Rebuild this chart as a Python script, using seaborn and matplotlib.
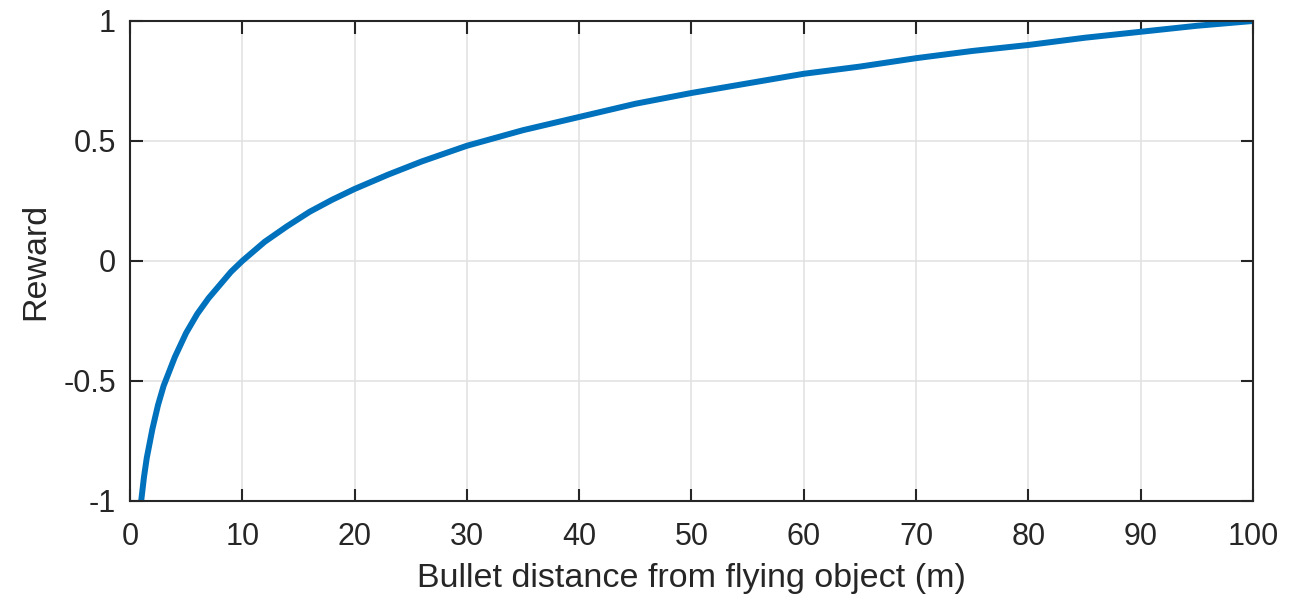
import matplotlib
matplotlib.use("Agg")
import matplotlib.pyplot as plt
import seaborn as sns
import pandas as pd

# Reward as a function of bullet distance
distance_m = [1, 1.25, 1.5, 2, 2.5, 3, 3.5, 4, 5, 6, 7, 8, 9, 10, 12, 14, 16, 18,
              20, 23, 26, 30, 35, 40, 45, 50, 55, 60, 65, 70, 75, 80, 85, 90, 95, 100]
reward = [-1.0, -0.90, -0.82, -0.70, -0.60, -0.52, -0.46, -0.40, -0.30, -0.22,
          -0.155, -0.10, -0.045, 0.0, 0.08, 0.145, 0.205, 0.255, 0.30, 0.36,
          0.415, 0.48, 0.545, 0.60, 0.655, 0.70, 0.74, 0.78, 0.81, 0.845, 0.875,
          0.90, 0.93, 0.955, 0.98, 1.0]

x_ticks = [0, 10, 20, 30, 40, 50, 60, 70, 80, 90, 100]
y_ticks = [-1, -0.5, 0, 0.5, 1]
y_tick_labels = ["-1", "-0.5", "0", "0.5", "1"]

sns.set_theme(style="white")
plt.rcParams["font.family"] = ["Liberation Sans", "DejaVu Sans"]

df = pd.DataFrame({"distance": distance_m, "reward": reward})

fig = plt.figure(figsize=(13.06, 5.96), dpi=100)
ax = fig.add_axes([0.0995, 0.1594, 0.8599, 0.8054])

sns.lineplot(data=df, x="distance", y="reward", ax=ax, color="#0072BD",
             linewidth=4.3, solid_joinstyle="miter")

ax.set_xlim(0, 100)
ax.set_ylim(-1, 1)
ax.set_xticks(x_ticks)
ax.set_xticklabels([str(t) for t in x_ticks])
ax.set_yticks(y_ticks)
ax.set_yticklabels(y_tick_labels)

ax.grid(True, color="#e0e0e0", linewidth=1.1)
ax.set_axisbelow(True)

for side in ["left", "right", "top", "bottom"]:
    ax.spines[side].set_visible(True)
    ax.spines[side].set_color("#262626")
    ax.spines[side].set_linewidth(1.5)

ax.tick_params(axis="both", which="both", direction="in", length=9, width=1.5,
               color="#262626", labelsize=22, labelcolor="#262626",
               top=True, right=True, bottom=True, left=True)
ax.tick_params(axis="x", pad=15)
ax.tick_params(axis="y", pad=10)

ax.set_xlabel("Bullet distance from flying object (m)", fontsize=24.5,
              color="#262626", labelpad=8)
ax.set_ylabel("Reward", fontsize=24.5, color="#262626", labelpad=9)

fig.savefig("out.png", dpi=100)
